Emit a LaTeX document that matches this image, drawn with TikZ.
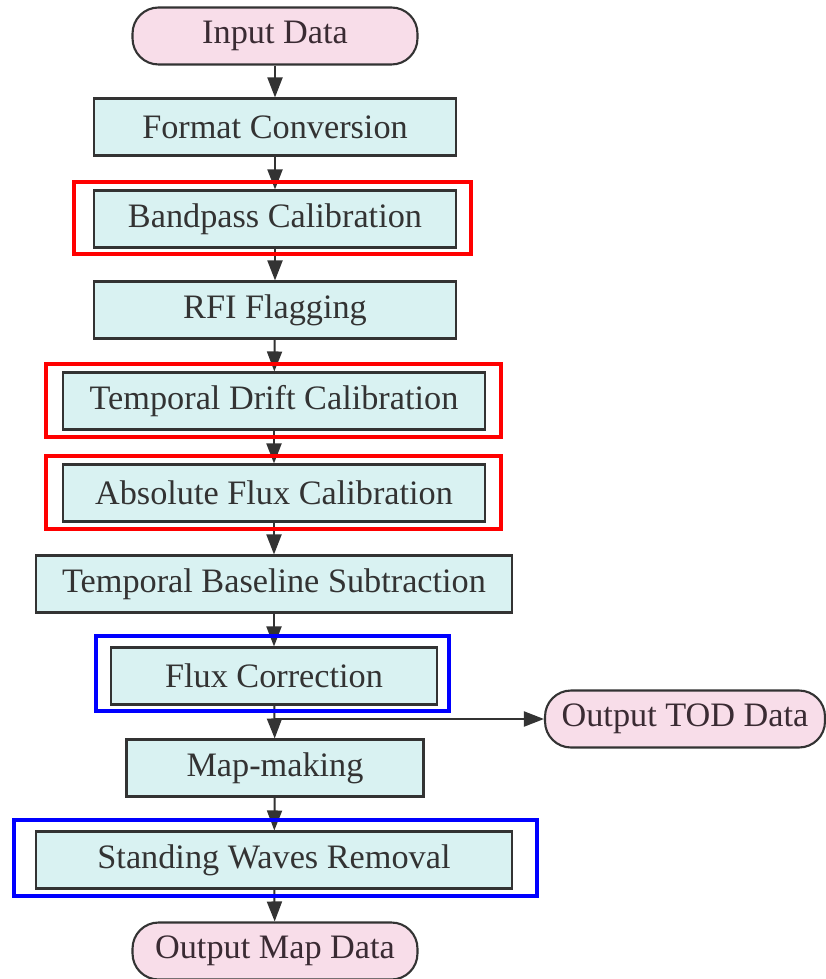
\documentclass[tikz,border=0pt]{standalone}
\usepackage{fontspec}
\setmainfont{LiberationSerif}[Extension=.ttf, UprightFont=*-Regular, BoldFont=*-Bold]
\usetikzlibrary{arrows.meta}
\definecolor{boxfill}{HTML}{D9F2F2}
\definecolor{termfill}{HTML}{F8DDE9}
\definecolor{edgegray}{HTML}{333333}
\definecolor{termtext}{HTML}{3A2B33}
\tikzset{
  stepbox/.style={draw=edgegray, line width=1.2pt, fill=boxfill, text=edgegray,
    minimum height=1.14cm, inner sep=0pt, font=\fontsize{19.5}{23}\selectfont},
  termbox/.style={stepbox, fill=termfill, text=termtext, rounded corners=0.52cm},
  flow/.style={draw=edgegray, line width=1.1pt, -{Triangle[length=0.4cm,width=0.3cm]}},
  redframe/.style={draw=red, line width=2.7pt},
  blueframe/.style={draw=blue, line width=2.7pt}
}

\begin{document}
\begin{tikzpicture}[x=0.02cm, y=-0.02cm]
    \useasboundingbox (0,0) rectangle (825,979);
    \node[termbox, minimum width=5.7cm]  (a) at (275,  36) {Input Data};
    \node[stepbox, minimum width=7.24cm] (b) at (275, 127) {Format Conversion};
    \node[stepbox, minimum width=7.24cm] (c) at (275, 219) {Bandpass Calibration};
    \node[stepbox, minimum width=7.24cm] (d) at (275, 310) {RFI Flagging};
    \node[stepbox, minimum width=8.44cm] (e) at (274, 401) {Temporal Drift Calibration};
    \node[stepbox, minimum width=8.44cm] (f) at (274, 493) {Absolute Flux Calibration};
    \node[stepbox, minimum width=9.52cm] (g) at (274, 584) {Temporal Baseline Subtraction};
    \node[stepbox, minimum width=6.52cm] (h) at (274, 676) {Flux Correction};
    \node[stepbox, minimum width=5.94cm] (i) at (275, 768) {Map-making};
    \node[stepbox, minimum width=9.52cm] (j) at (274, 860) {Standing Waves Removal};
    \node[termbox, minimum width=5.7cm]  (k) at (275, 951) {Output Map Data};
    \node[termbox, minimum width=5.6cm]  (l) at (685, 719) {Output TOD Data};
    \draw[flow] (a) -- (b);
    \draw[flow] (b) -- (c);
    \draw[flow] (c) -- (d);
    \draw[flow] (d) -- (e);
    \draw[flow] (e) -- (f);
    \draw[flow] (f) -- (g);
    \draw[flow] (g) -- (h);
    \draw[flow] (h) -- (i);
    \draw[flow] (i) -- (j);
    \draw[flow] (j) -- (k);
    \coordinate (m) at (h.south |- l.west);
    \draw[flow] (m) -- (l);
    % highlight frames
    \draw[redframe]  (74, 182) rectangle (471, 254);
    \draw[redframe]  (46, 364) rectangle (501, 437);
    \draw[redframe]  (46, 456) rectangle (501, 529);
    \draw[blueframe] (96, 636) rectangle (449, 711);
    \draw[blueframe] (14, 820) rectangle (537, 896);
\end{tikzpicture}
\end{document}
